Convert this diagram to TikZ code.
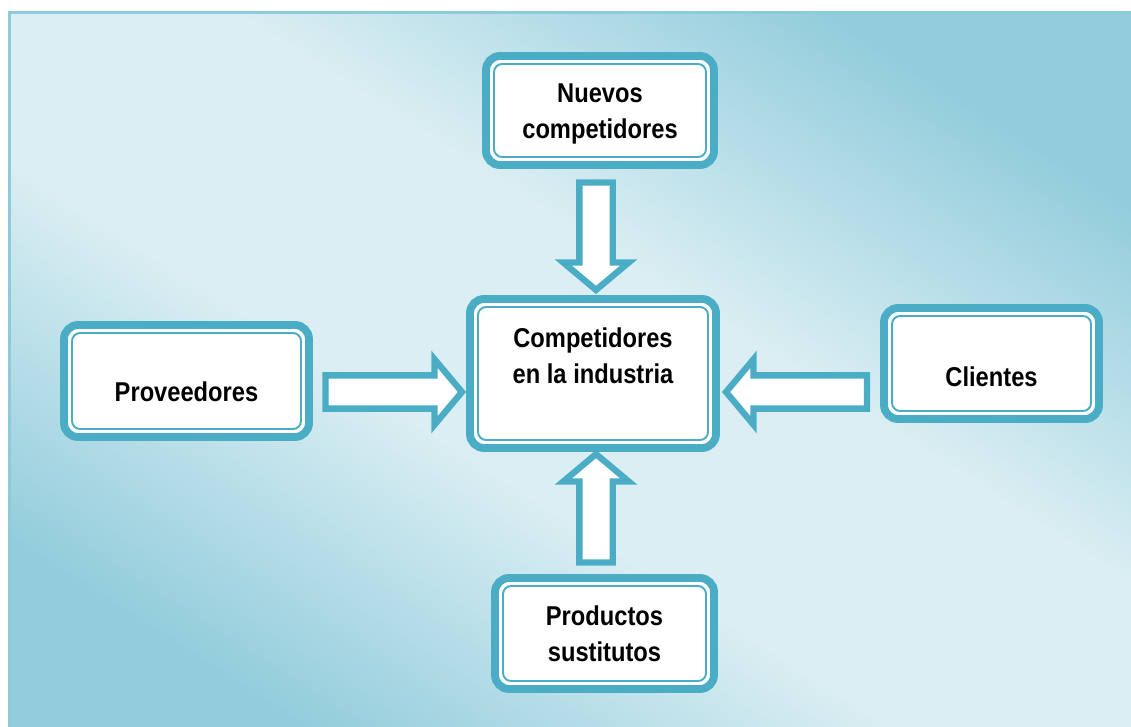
\documentclass[tikz,border=0pt]{standalone}
\usepackage{fontspec}
\newfontfamily\boxfont{Liberation Sans}[FakeStretch=0.87]
\usetikzlibrary{shapes.arrows}
\usetikzlibrary{positioning}

\definecolor{boxteal}{HTML}{4BACC6}
\definecolor{bgdark}{HTML}{93CDDC}
\definecolor{bglight}{HTML}{DAEEF3}
\definecolor{bgframe}{HTML}{8DCBDA}

\pgfdeclareverticalshading{bgshade}{100bp}{color(0bp)=(bgdark); color(25bp)=(bgdark);
  color(43bp)=(bglight); color(57bp)=(bglight); color(75bp)=(bgdark); color(100bp)=(bgdark)}

\begin{document}
\begin{tikzpicture}[x=0.02cm, y=-0.02cm,
  box/.style={draw=boxteal, line width=4.5pt, fill=white, rounded corners=0.28cm, inner sep=0pt,
    path picture={\draw[boxteal, line width=1.1pt, rounded corners=0.16cm]
      ([shift={(0.16cm,0.16cm)}]path picture bounding box.south west) rectangle
      ([shift={(-0.16cm,-0.16cm)}]path picture bounding box.north east);}},
  boxtext/.style={font=\boxfont\bfseries\fontsize{15.5}{20.5}\selectfont, align=center, text=black},
  bigarrow/.style={single arrow, draw=boxteal, fill=white, line width=3.6pt, inner xsep=0pt,
    inner ysep=0.27cm, single arrow head extend=0.32cm, single arrow tip angle=100, anchor=tip}]
% background
\useasboundingbox (0,0) rectangle (1131,726);
\shade[shading=bgshade, shading angle=-32.5] (9.5,12.5) rectangle (1140,740);
\draw[bgframe, line width=1.7pt] (9.5,12.5) rectangle (1140,740);
% draw boxes
\node[box, minimum width=4.56cm, minimum height=2.18cm,
  label={[boxtext, yshift=-0.06cm]center:{Nuevos\\competidores}}] (nuevos) at (600,110.5) {};
\node[box, minimum width=4.92cm, minimum height=2.98cm,
  label={[boxtext, yshift=0.35cm]center:{Competidores\\en la industria}}] (industria) at (593,373.5) {};
\node[box, minimum width=4.9cm, minimum height=2.24cm,
  label={[boxtext, yshift=-0.22cm]center:Proveedores}] (proveedores) at (186.5,381) {};
\node[box, minimum width=4.3cm, minimum height=2.22cm,
  label={[boxtext, yshift=-0.27cm]center:Clientes}] (clientes) at (991.5,363.5) {};
\node[box, minimum width=4.38cm, minimum height=2.22cm,
  label={[boxtext]center:{Productos\\sustitutos}}] (sustitutos) at (604.5,633.5) {};
% draw arrows into the industry box
\node[bigarrow, rotate=-90, minimum height=2.15cm] (fromnuevos) at ([xshift=0.06cm, yshift=0.02cm]industria.north) {};
\node[bigarrow, rotate=90, minimum height=2.17cm] (fromsustitutos) at ([xshift=0.06cm, yshift=0.04cm]industria.south) {};
\node[bigarrow, minimum height=2.73cm] (fromproveedores) at ([yshift=-0.37cm]industria.west) {};
\node[bigarrow, rotate=180, minimum height=2.82cm] (fromclientes) at ([xshift=0.04cm, yshift=-0.37cm]industria.east) {};
\end{tikzpicture}
\end{document}
